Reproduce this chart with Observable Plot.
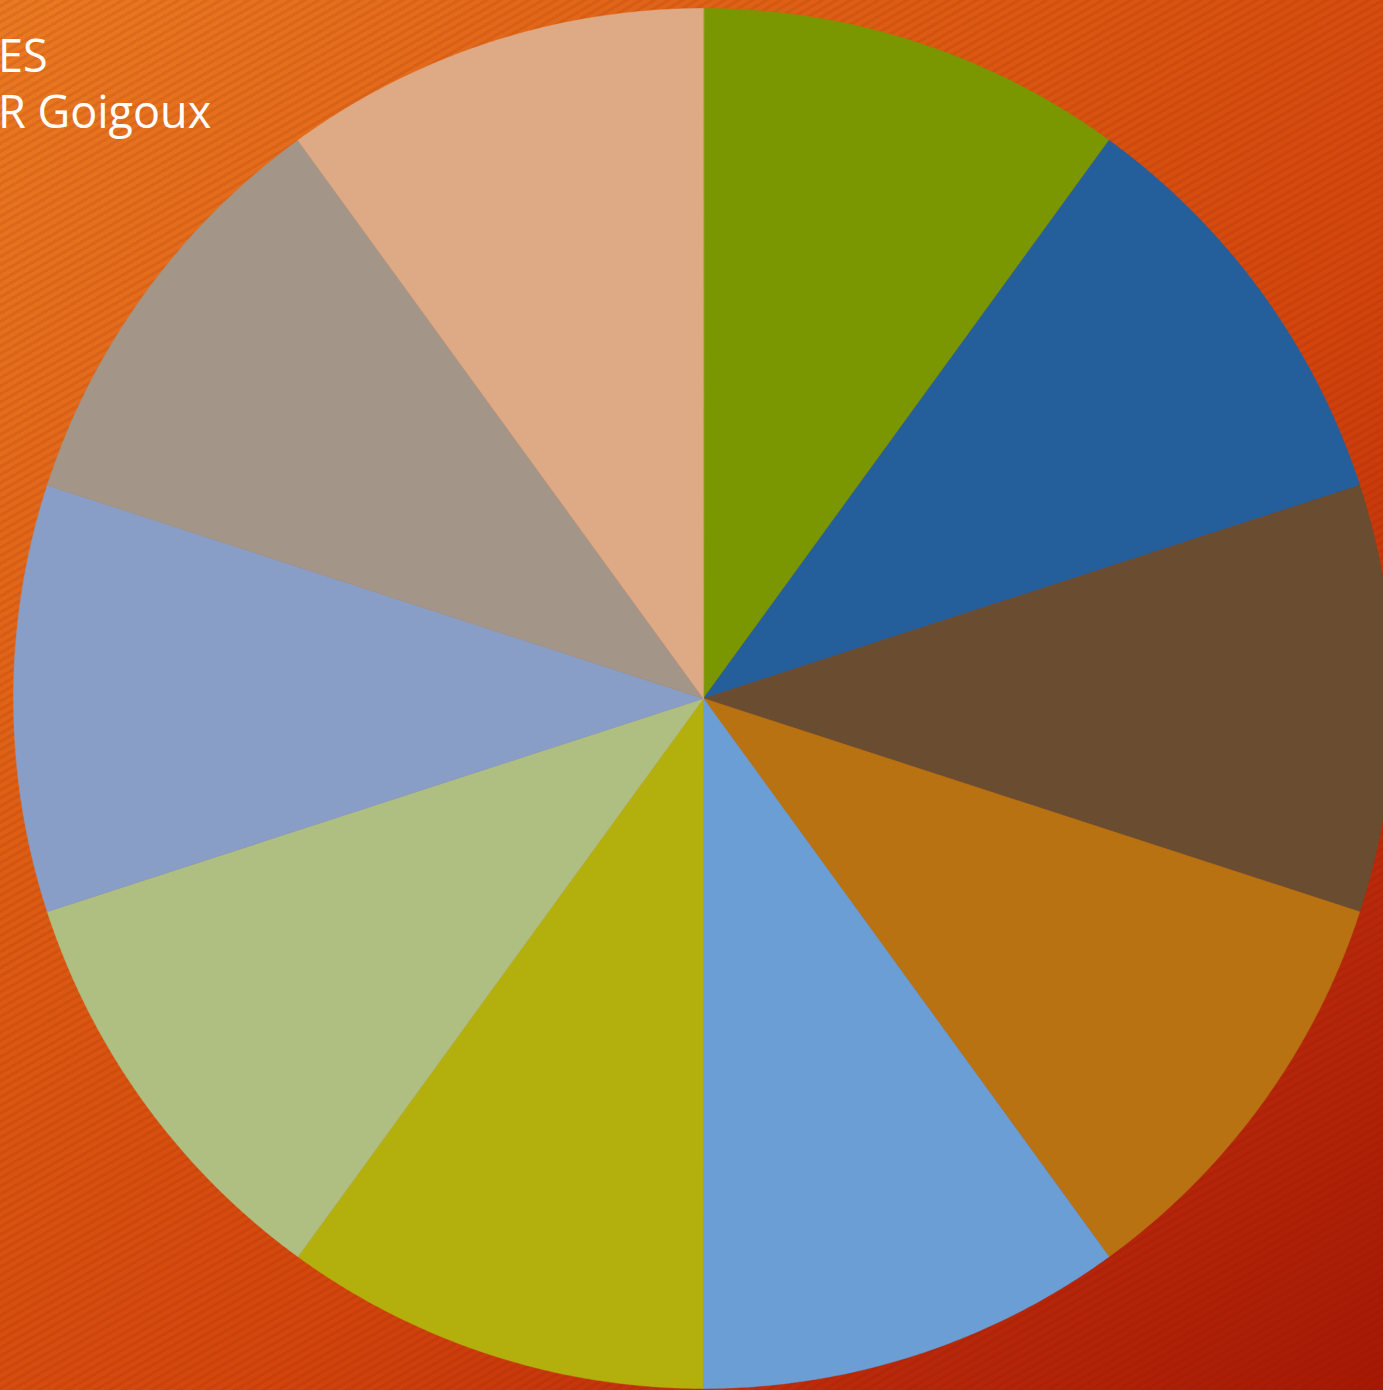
<!DOCTYPE html>
<html>
<head>
<meta charset="utf-8">
<script src="https://cdn.jsdelivr.net/npm/d3@7"></script>
<script src="https://cdn.jsdelivr.net/npm/@observablehq/plot@0.6"></script>
<style>
  html, body { margin: 0; padding: 0; width: 1383px; height: 1390px; overflow: hidden; }
  body {
    position: relative;
    background:
      repeating-linear-gradient(150deg, rgba(0,0,0,0) 0px, rgba(0,0,0,0) 4px, rgba(120,20,0,0.10) 4px, rgba(120,20,0,0.10) 7px),
      linear-gradient(135deg, #ea7a22 0%, #dc5a12 35%, #d2440c 60%, #b8280a 82%, #a61804 100%);
  }
  #chart { position: absolute; left: 0; top: 0; }
  .title { position: absolute; left: -2px; color: #fff; font-family: "Open Sans", "DejaVu Sans", sans-serif; font-size: 45px; line-height: 1; white-space: nowrap; }
</style>
</head>
<body>
<div id="chart"></div>
<div class="title" style="top:32px">ES</div>
<div class="title" style="top:88px">R Goigoux</div>
<script>
const categories = ["A", "B", "C", "D", "E", "F", "G", "H", "I", "J"];
const values = [1, 1, 1, 1, 1, 1, 1, 1, 1, 1];
const colors = ["#7a9600", "#245f9c", "#6a4c30", "#b87212", "#6a9ed4", "#b3af0d", "#afbf82", "#889ec6", "#a39588", "#deaa86"];

const pie = d3.pie().sort(null).value(d => d.value);
const arcs = pie(categories.map((c, i) => ({category: c, value: values[i]})));

// slice polygons on a unit circle (y grows downward, angle clockwise from top)
function slicePolygon(a) {
  const pts = [[0, 0]];
  const n = 120;
  for (let k = 0; k <= n; k++) {
    const t = a.startAngle + (a.endAngle - a.startAngle) * k / n;
    pts.push([Math.sin(t), -Math.cos(t)]);
  }
  pts.push([0, 0]);
  return {type: "Feature", properties: {category: a.data.category}, geometry: {type: "Polygon", coordinates: [pts]}};
}
const features = arcs.map(slicePolygon);

const circle = {type: "Polygon", coordinates: [d3.range(0, 361, 1).map(t => [Math.sin(t * Math.PI / 180), -Math.cos(t * Math.PI / 180)])]};

const chart = Plot.plot({
  width: 1393,
  height: 1390,
  marginTop: 8,
  marginLeft: 13,
  marginRight: 0,
  marginBottom: 2,
  style: {background: "transparent", overflow: "visible", maxWidth: "none"},
  projection: {type: "identity", domain: circle},
  color: {domain: categories, range: colors},
  marks: [
    Plot.geo(features, {fill: d => d.properties.category, stroke: d => d.properties.category, strokeWidth: 0.5})
  ]
});
chart.style.maxWidth = "none";
document.getElementById("chart").append(chart);
</script>
</body>
</html>
